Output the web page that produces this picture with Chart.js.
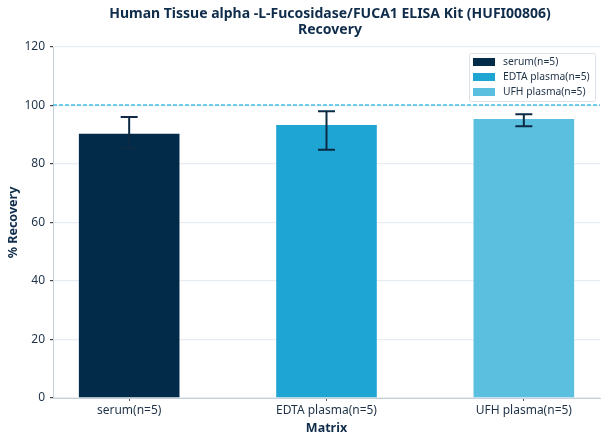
<!DOCTYPE html>
<html>
<head>
<meta charset="utf-8">
<script src="https://cdn.jsdelivr.net/npm/chart.js@4.4.1/dist/chart.umd.min.js"></script>
<style>
  html, body { margin: 0; padding: 0; background: #fff; }
  #wrap { width: 608px; height: 444px; }
</style>
</head>
<body>
<div id="wrap"><canvas id="recoveryChart"></canvas></div>
<script>
// values
const categories = ['serum(n=5)', 'EDTA plasma(n=5)', 'UFH plasma(n=5)'];
const recovery = [90.7, 93.7, 95.7];
const errLow = [85.3, 84.9, 92.9];
const errHigh = [96.1, 98.0, 97.0];
const barColors = ['#022b4a', '#1fa5d3', '#5bbfe0'];
const refLine = 100;
const titleLines = ['Human Tissue alpha -L-Fucosidase/FUCA1 ELISA Kit (HUFI00806)', 'Recovery'];

const FONT = '"Noto Sans", "DejaVu Sans", sans-serif';
const TEXT = '#1e3247';

// dashed reference line at 100 %
const refLinePlugin = {
  id: 'refLine',
  afterDatasetsDraw(chart) {
    const { ctx, chartArea, scales } = chart;
    const y = Math.round(scales.y.getPixelForValue(refLine));
    ctx.save();
    ctx.strokeStyle = '#45bde9';
    ctx.lineWidth = 1.3;
    ctx.setLineDash([4, 2]);
    ctx.beginPath();
    ctx.moveTo(chartArea.left, y);
    ctx.lineTo(chartArea.right, y);
    ctx.stroke();
    ctx.restore();
  }
};

// error bars
const errorBarPlugin = {
  id: 'errorBars',
  afterDatasetsDraw(chart) {
    const { ctx, scales } = chart;
    ctx.save();
    ctx.strokeStyle = '#0c2a44';
    ctx.lineWidth = 2;
    categories.forEach((c, i) => {
      const x = scales.x.getPixelForValue(i);
      const y1 = scales.y.getPixelForValue(errLow[i]);
      const y2 = scales.y.getPixelForValue(errHigh[i]);
      ctx.beginPath();
      ctx.moveTo(x, y1); ctx.lineTo(x, y2);
      ctx.moveTo(x - 8.5, y1); ctx.lineTo(x + 8.5, y1);
      ctx.moveTo(x - 8.5, y2); ctx.lineTo(x + 8.5, y2);
      ctx.stroke();
    });
    ctx.restore();
  }
};

// title and legend drawn inside/over the chart
const decorPlugin = {
  id: 'decor',
  afterDraw(chart) {
    const { ctx, chartArea } = chart;
    ctx.save();
    ctx.fillStyle = '#0f2c4a';
    ctx.font = 'bold 14px ' + FONT;
    ctx.textAlign = 'center';
    ctx.textBaseline = 'middle';
    ctx.fillText(titleLines[0], 330, 14);
    ctx.fillText(titleLines[1], 330, 30);

    // legend box in the upper right corner
    const bx = chartArea.right - 131, by = chartArea.top + 6, bw = 126, bh = 48;
    ctx.fillStyle = 'rgba(255,255,255,0.85)';
    ctx.strokeStyle = '#dbe1e8';
    ctx.lineWidth = 1;
    ctx.beginPath();
    ctx.roundRect(bx + 0.5, by + 0.5, bw, bh, 2);
    ctx.fill();
    ctx.stroke();
    ctx.font = '10.3px ' + FONT;
    ctx.textAlign = 'left';
    chart.data.datasets.forEach((ds, i) => {
      const cy = by + 9 + i * 15;
      ctx.fillStyle = ds.backgroundColor;
      ctx.fillRect(bx + 4, cy - 4, 22, 8);
      ctx.fillStyle = TEXT;
      ctx.fillText(ds.label, bx + 34, cy);
    });
    ctx.restore();
  }
};

const datasets = categories.map((c, i) => ({
  label: c,
  data: [{ x: i, y: recovery[i] }],
  backgroundColor: barColors[i],
  borderColor: 'rgba(255,255,255,0.35)',
  borderWidth: 1,
  grouped: false,
  barPercentage: 0.52,
  categoryPercentage: 1
}));

new Chart(document.getElementById('recoveryChart'), {
  type: 'bar',
  data: { datasets },
  options: {
    responsive: true,
    maintainAspectRatio: false,
    animation: false,
    layout: { padding: { left: 0, right: 8, top: 47, bottom: 4 } },
    plugins: {
      legend: { display: false },
      title: { display: false },
      tooltip: { enabled: false }
    },
    scales: {
      x: {
        type: 'linear',
        offset: false,
        min: -0.386,
        max: 2.386,
        afterBuildTicks(scale) {
          scale.ticks = categories.map((c, i) => ({ value: i }));
        },
        afterFit(scale) { scale.height = 42; },
        ticks: {
          callback: (v) => categories[v],
          color: TEXT,
          font: { family: FONT, size: 12 },
          padding: 2,
          maxRotation: 0
        },
        grid: { offset: false, drawOnChartArea: false, tickLength: 3, tickColor: '#555', color: '#555' },
        border: { color: '#c6d0da', width: 1 },
        title: {
          display: true,
          text: 'Matrix',
          color: '#0f2c4a',
          font: { family: FONT, size: 12.5, weight: 'bold' },
          padding: 4
        }
      },
      y: {
        min: 0,
        max: 120,
        afterFit(scale) { scale.width = 53; },
        ticks: {
          stepSize: 20,
          color: TEXT,
          font: { family: FONT, size: 12 },
          padding: 5
        },
        grid: { color: '#e7ecf2', lineWidth: 1.2, tickLength: 3, tickColor: '#444' },
        border: { color: '#c6d0da', width: 1 },
        title: {
          display: true,
          text: '% Recovery',
          color: '#0f2c4a',
          font: { family: FONT, size: 12.5, weight: 'bold' },
          padding: 6
        }
      }
    }
  },
  plugins: [refLinePlugin, errorBarPlugin, decorPlugin]
});
</script>
</body>
</html>
